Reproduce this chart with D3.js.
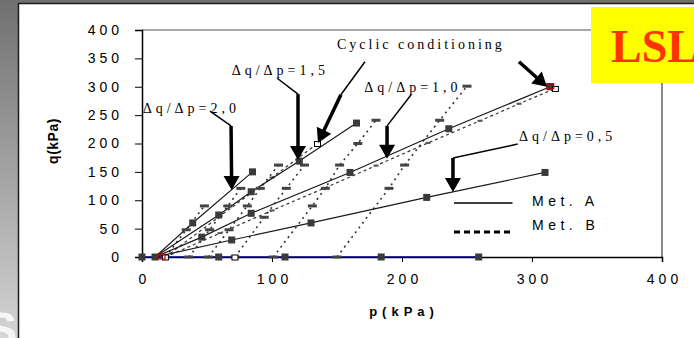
<!DOCTYPE html>
<html>
<head>
<meta charset="utf-8">
<script src="https://cdn.jsdelivr.net/npm/d3@7"></script>
<style>
body { margin: 0; padding: 0; overflow: hidden; background: #fff; }
</style>
</head>
<body>
<div id="chart"></div>
<script>
// tick labels
var xTicks = [0, 100, 200, 300, 400];
var yTicks = [0, 50, 100, 150, 200, 250, 300, 350, 400];

// Met. A paths (p, q in kPa), constant dq/dp from isotropic state
var a20P = [10, 39, 85],                 a20Q = [0, 60, 150];
var a15P = [10, 59, 84, 121, 165],       a15Q = [0, 74, 115, 169, 236];
var a10P = [10, 46, 84, 160, 236, 314],  a10Q = [0, 35, 77, 149, 226, 300];
var a05P = [10, 69, 130, 219, 310],      a05Q = [0, 30, 60, 105, 149];
var a00P = [0, 10, 59, 110, 184, 259],   a00Q = [0, 0, 0, 0, 0, 0];

// Met. B paths along dq/dp lines
var b15P = [18, 60, 100, 135],                         b15Q = [0, 72, 140, 200];
var b10P = [18, 60, 100, 140, 180, 220, 260, 290, 318], b10Q = [0, 42, 82, 121, 161, 201, 240, 270, 297];

// Met. B paths, triaxial compression from isotropic p0
var t1P = [18, 34, 48],                  t1Q = [0, 48, 90];
var t2P = [36, 52, 66, 76],              t2Q = [0, 48, 90, 121];
var t3P = [51, 67, 81, 91, 105],         t3Q = [0, 48, 90, 121, 162];
var t4P = [71.5, 94, 111, 125],          t4Q = [0, 70, 121, 162];
var t5P = [101, 131, 141, 152, 166, 180], t5Q = [0, 90, 121, 162, 200, 241];
var t6P = [150, 190, 202, 229, 250],     t6Q = [0, 121, 162, 241, 301];

// open / red markers (cyclic conditioning)
var openP = [18, 71.5, 135, 318], openQ = [0, 0, 200, 297];
var redP = [15, 314], redQ = [0, 300];

function zip(p, q) {
	return p.map(function (d, i) { return { p: d, q: q[i] }; });
}

var W = 694, H = 338;
var svg = d3.select("#chart").append("svg")
	.attr("width", W)
	.attr("height", H)
	.style("display", "block");

// background
var defs = svg.append("defs");
var grad = defs.append("linearGradient").attr("id", "bg")
	.attr("x1", 0).attr("y1", 0).attr("x2", 0).attr("y2", 1);
grad.append("stop").attr("offset", "0%").attr("stop-color", "#707070");
grad.append("stop").attr("offset", "100%").attr("stop-color", "#d4d4d4");
svg.append("rect").attr("width", W).attr("height", H).attr("fill", "url(#bg)");

// watermark letter, mostly hidden behind the panel
svg.append("text")
	.attr("x", -15).attr("y", 346)
	.style("font-family", "Arial, 'Liberation Sans', sans-serif")
	.style("font-weight", "bold")
	.style("font-size", "48px")
	.attr("fill", "#f6f6f6")
	.text("S");

svg.append("rect")
	.attr("x", 18.5).attr("y", 3.5)
	.attr("width", 700).attr("height", 400)
	.attr("fill", "#fff")
	.attr("stroke", "#1c1c1c")
	.attr("stroke-width", 1.5);

var x = d3.scaleLinear().domain([0, 400]).range([142, 662]);
var y = d3.scaleLinear().domain([0, 400]).range([257, 30]);

// frame
svg.append("line")
	.attr("x1", x(0)).attr("x2", x(400))
	.attr("y1", y(400)).attr("y2", y(400))
	.attr("stroke", "#8c8c8c").attr("stroke-width", 1.5);
svg.append("line")
	.attr("x1", x(400)).attr("x2", x(400))
	.attr("y1", y(400)).attr("y2", y(0))
	.attr("stroke", "#8c8c8c").attr("stroke-width", 2);

var tickFont = "Arial, 'Liberation Sans', sans-serif";

// Y axis
var yAxis = svg.append("g")
	.attr("transform", "translate(" + x(0) + ",0)")
	.call(d3.axisLeft(y).tickValues(yTicks).tickSize(7).tickPadding(12));
// X axis
var xAxis = svg.append("g")
	.attr("transform", "translate(0," + y(0) + ")")
	.call(d3.axisBottom(x).tickValues(xTicks).tickSize(5).tickPadding(12));

[yAxis, xAxis].forEach(function (ax) {
	ax.select(".domain").attr("stroke", "#000").attr("stroke-width", 1.5);
	ax.selectAll(".tick line").attr("stroke", "#000").attr("stroke-width", 1);
	ax.selectAll(".tick text")
		.style("font-family", tickFont)
		.style("font-size", "14px")
		.style("letter-spacing", "4px")
		.attr("fill", "#000");
});
xAxis.selectAll(".tick text").attr("dx", "2px");

svg.append("text")
	.attr("transform", "translate(58," + 141 + ") rotate(-90)")
	.attr("text-anchor", "middle")
	.style("font-family", tickFont)
	.style("font-weight", "bold")
	.style("font-size", "14px")
	.style("letter-spacing", "0.5px")
	.text("q(kPa)");

svg.append("text")
	.attr("x", 404).attr("y", 316)
	.attr("text-anchor", "middle")
	.style("font-family", tickFont)
	.style("font-weight", "bold")
	.style("font-size", "13px")
	.style("letter-spacing", "5px")
	.text("p(kPa)");

var line = d3.line()
	.x(function (d) { return x(d.p); })
	.y(function (d) { return y(d.q); });

// Met. B triaxial paths (dotted)
[[t1P, t1Q], [t2P, t2Q], [t3P, t3Q], [t4P, t4Q], [t5P, t5Q], [t6P, t6Q]].forEach(function (s) {
	svg.append("path")
		.datum(zip(s[0], s[1]))
		.attr("d", line)
		.attr("fill", "none")
		.attr("stroke", "#333")
		.attr("stroke-width", 1.6)
		.attr("stroke-dasharray", "2,4");
});

// Met. B paths along dq/dp (dashed)
[[b15P, b15Q], [b10P, b10Q]].forEach(function (s) {
	svg.append("path")
		.datum(zip(s[0], s[1]))
		.attr("d", line)
		.attr("fill", "none")
		.attr("stroke", "#333")
		.attr("stroke-width", 1.2)
		.attr("stroke-dasharray", "3,3");
	svg.selectAll(null)
		.data(zip(s[0], s[1]).slice(1, -1))
		.enter().append("rect")
		.attr("x", function (d) { return x(d.p) - 2.5; })
		.attr("y", function (d) { return y(d.q) - 1; })
		.attr("width", 5).attr("height", 2)
		.attr("fill", "#555");
});

// Met. A lines
[[a20P, a20Q], [a15P, a15Q], [a10P, a10Q], [a05P, a05Q]].forEach(function (s) {
	svg.append("path")
		.datum(zip(s[0], s[1]))
		.attr("d", line)
		.attr("fill", "none")
		.attr("stroke", "#1a1a1a")
		.attr("stroke-width", 1.2);
});
svg.append("path")
	.datum(zip(a00P, a00Q))
	.attr("d", line)
	.attr("fill", "none")
	.attr("stroke", "#000080")
	.attr("stroke-width", 1.6);

// Met. B dash markers on triaxial paths
[[t1P, t1Q], [t2P, t2Q], [t3P, t3Q], [t4P, t4Q], [t5P, t5Q], [t6P, t6Q]].forEach(function (s) {
	svg.selectAll(null)
		.data(zip(s[0], s[1]))
		.enter().append("rect")
		.attr("x", function (d) { return x(d.p) - 4.5; })
		.attr("y", function (d) { return y(d.q) - 1.5; })
		.attr("width", 9).attr("height", 3)
		.attr("fill", "#444");
});

// Met. A square markers
[[a20P, a20Q], [a15P, a15Q], [a10P, a10Q], [a05P, a05Q], [a00P, a00Q]].forEach(function (s) {
	svg.selectAll(null)
		.data(zip(s[0], s[1]).filter(function (d) { return d.p !== 10 || d.q !== 0 || s[0] === a00P; }))
		.enter().append("rect")
		.attr("x", function (d) { return x(d.p) - 3.5; })
		.attr("y", function (d) { return y(d.q) - 3.5; })
		.attr("width", 7).attr("height", 7)
		.attr("fill", "#3a3a3a");
});

svg.selectAll(null)
	.data(zip(openP, openQ))
	.enter().append("rect")
	.attr("x", function (d) { return x(d.p) - 3; })
	.attr("y", function (d) { return y(d.q) - 2; })
	.attr("width", 6).attr("height", 5)
	.attr("fill", "#fff")
	.attr("stroke", "#000").attr("stroke-width", 1);

svg.selectAll(null)
	.data(zip(redP, redQ))
	.enter().append("rect")
	.attr("x", function (d) { return x(d.p) - 3.5; })
	.attr("y", function (d) { return y(d.q) - 3; })
	.attr("width", 7).attr("height", 5)
	.attr("fill", "none")
	.attr("stroke", "#c00000").attr("stroke-width", 1.2);

// annotations
var serif = "'Liberation Serif', 'Times New Roman', serif";
function label(txt, p, q, ls) {
	svg.append("text")
		.attr("x", x(p)).attr("y", y(q))
		.style("font-family", serif)
		.style("font-size", "14px")
		.style("letter-spacing", ls + "px")
		.text(txt);
}
label("\u0394q/\u0394p=2,0", 0.5, 254, 4);
label("\u0394q/\u0394p=1,5", 69, 321, 4);
label("\u0394q/\u0394p=1,0", 171, 291, 4);
label("\u0394q/\u0394p=0,5", 290, 204, 4);
label("Cyclic conditioning", 150, 366, 3);

function arrow(pts, tip, w) {
	var path = pts.concat([tip]);
	var a = path[path.length - 2];
	var ax = x(a[0]), ay = y(a[1]), tx = x(tip[0]), ty = y(tip[1]);
	var dx = tx - ax, dy = ty - ay, len = Math.sqrt(dx * dx + dy * dy);
	var ux = dx / len, uy = dy / len, hl = 14, hw = 8;
	var bx = tx - ux * hl, by = ty - uy * hl;
	// thin leader
	svg.append("line")
		.attr("x1", x(pts[0][0])).attr("y1", y(pts[0][1]))
		.attr("x2", x(pts[1][0])).attr("y2", y(pts[1][1]))
		.attr("stroke", "#000").attr("stroke-width", 1.5);
	svg.append("line")
		.attr("x1", ax).attr("y1", ay)
		.attr("x2", bx + ux * 2).attr("y2", by + uy * 2)
		.attr("stroke", "#000").attr("stroke-width", w);
	svg.append("path")
		.attr("d", "M" + tx + "," + ty +
			"L" + (bx - uy * hw) + "," + (by + ux * hw) +
			"L" + (bx + uy * hw) + "," + (by - ux * hw) + "Z")
		.attr("fill", "#000");
}
arrow([[52.3, 257], [68.5, 231]], [69, 118], 3.5);
arrow([[104, 315], [120, 287]], [120, 171], 3.5);
arrow([[207, 286], [188.5, 231]], [188.5, 173], 3.5);
arrow([[289, 199], [239.2, 174.5]], [239.2, 114.5], 3.5);
arrow([[171.5, 344], [153, 286]], [135.4, 201], 3.5);
arrow([[290, 344], [290, 344]], [311.5, 300], 3.5);

// legend
svg.append("line")
	.attr("x1", x(240)).attr("x2", x(285))
	.attr("y1", y(95)).attr("y2", y(95))
	.attr("stroke", "#000").attr("stroke-width", 1.5);
svg.append("line")
	.attr("x1", x(240)).attr("x2", x(285))
	.attr("y1", y(44)).attr("y2", y(44))
	.attr("stroke", "#000").attr("stroke-width", 3)
	.attr("stroke-dasharray", "6,4");
svg.append("text")
	.attr("x", x(300)).attr("y", y(95) + 3)
	.style("font-family", tickFont).style("font-size", "14px")
	.style("letter-spacing", "4.5px")
	.text("Met. A");
svg.append("text")
	.attr("x", x(300)).attr("y", y(44) - 2)
	.style("font-family", tickFont).style("font-size", "14px")
	.style("letter-spacing", "4.5px")
	.text("Met. B");

// logo
svg.append("rect")
	.attr("x", 591).attr("y", 7)
	.attr("width", 110).attr("height", 76)
	.attr("fill", "#ffff00");
svg.append("text")
	.attr("x", 611).attr("y", 62)
	.style("font-family", serif)
	.style("font-weight", "bold")
	.style("font-size", "46px")
	.attr("fill", "#ff3300")
	.text("LSL");
</script>
</body>
</html>
